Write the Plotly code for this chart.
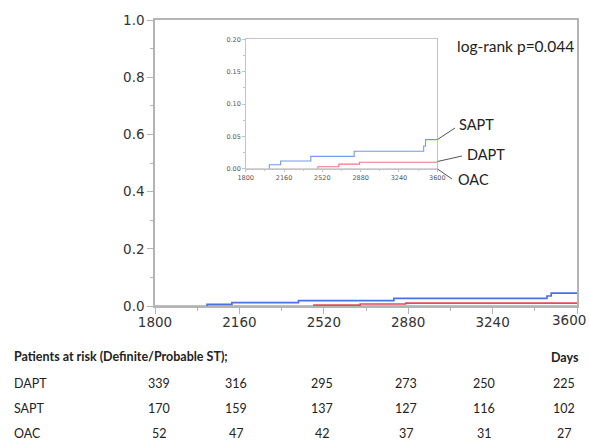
import plotly.graph_objects as go

# ---- data ----
sapt_days = [2022, 2022, 2128, 2412, 2819, 3472, 3490, 3600]
sapt_cum = [0.0, 0.006, 0.012, 0.019, 0.027, 0.035, 0.045, 0.045]
dapt_days = [2478, 2478, 2675, 2869, 3600]
dapt_cum = [0.0, 0.003, 0.007, 0.010, 0.010]
oac_days = [1800, 3600]
oac_cum = [0.0, 0.0]

risk_groups = ["DAPT", "SAPT", "OAC"]
risk_dapt = [339, 316, 295, 273, 250, 225]
risk_sapt = [170, 159, 137, 127, 116, 102]
risk_oac = [52, 47, 42, 37, 31, 27]
x_ticks = [1800, 2160, 2520, 2880, 3240, 3600]
inset_y_ticks = [0.0, 0.05, 0.10, 0.15, 0.20]
main_y_ticks = [0.0, 0.2, 0.4, 0.6, 0.8, 1.0]
pvalue_text = "log-rank p=0.044"

# ---- layout geometry (pixels, in the 589x440 window) ----
W, H = 589, 440
L, R, T, B = 155, 12, 20, 134
PW = W - L - R
PH = H - T - B


def px(x):
    return (x - L) / PW


def py(y):
    return (H - B - y) / PH


BLUE = "#4a72e0"
RED = "#e44a5a"
AXC = "#b4b4b4"
INC = "#c4c4c4"

fig = go.Figure()

# main curves
fig.add_trace(go.Scatter(x=oac_days, y=oac_cum, mode="lines", line=dict(color="#a8a8a8", width=1.5),
                         showlegend=False, hoverinfo="skip", xaxis="x", yaxis="y"))
fig.add_trace(go.Scatter(x=dapt_days, y=dapt_cum, mode="lines", line=dict(color=RED, width=1.6, shape="hv"),
                         showlegend=False, xaxis="x", yaxis="y"))
fig.add_trace(go.Scatter(x=sapt_days, y=sapt_cum, mode="lines", line=dict(color=BLUE, width=1.7, shape="hv"),
                         showlegend=False, xaxis="x", yaxis="y"))

# inset curves
fig.add_trace(go.Scatter(x=oac_days, y=oac_cum, mode="lines", line=dict(color="#bbbbbb", width=1),
                         showlegend=False, hoverinfo="skip", xaxis="x2", yaxis="y2"))
fig.add_trace(go.Scatter(x=dapt_days, y=dapt_cum, mode="lines", line=dict(color="#ee7480", width=1.1, shape="hv"),
                         showlegend=False, xaxis="x2", yaxis="y2"))
fig.add_trace(go.Scatter(x=sapt_days, y=sapt_cum, mode="lines", line=dict(color="#7598ee", width=1.1, shape="hv"),
                         showlegend=False, xaxis="x2", yaxis="y2"))

tickfont_main = dict(family="DejaVu Sans", size=13.5, color="#333333")
tickfont_inset = dict(family="DejaVu Sans", size=6.5, color="#555555")

# last main x tick label is drawn separately (shifted left to stay inside the window)
main_x_text = [str(v) for v in x_ticks[:-1]] + [""]

fig.update_layout(
    width=W, height=H,
    margin=dict(l=L, r=R, t=T, b=B, autoexpand=False),
    paper_bgcolor="white", plot_bgcolor="white",
    xaxis=dict(range=[1800, 3600], tickvals=x_ticks, ticktext=main_x_text, ticks="outside", ticklen=6,
               tickcolor=AXC, tickwidth=1.3, automargin=False, ticklabelstandoff=-3,
               showline=True, linecolor=AXC, linewidth=1.5, mirror=True, showgrid=False, zeroline=False,
               tickfont=tickfont_main,
               minor=dict(dtick=180, tick0=1800, ticks="outside", ticklen=3.5, tickcolor=AXC, showgrid=False)),
    yaxis=dict(range=[0, 1], tickvals=main_y_ticks, tickformat=".1f", ticks="outside", ticklen=6, tickcolor=AXC,
               tickwidth=1.3, automargin=False, showline=True, linecolor=AXC, linewidth=1.5, mirror=True,
               showgrid=False, zeroline=False, tickfont=tickfont_main,
               minor=dict(dtick=0.1, tick0=0, ticks="outside", ticklen=3.5, tickcolor=AXC, showgrid=False)),
    xaxis2=dict(domain=[px(245.7), px(437.3)], anchor="y2", range=[1800, 3600], tickvals=x_ticks,
                ticks="outside", ticklen=2.5, tickcolor=INC, showline=True, linecolor=INC, automargin=False,
                linewidth=1, mirror=True, showgrid=False, zeroline=False, tickfont=tickfont_inset,
                minor=dict(dtick=180, tick0=1800, ticks="outside", ticklen=1.5, tickcolor=INC, showgrid=False)),
    yaxis2=dict(domain=[py(168.7), py(39.3)], anchor="x2", range=[0, 0.2], tickvals=inset_y_ticks,
                tickformat=".2f", ticks="outside", ticklen=2.5, tickcolor=INC, showline=True, automargin=False,
                linecolor=INC, linewidth=1, mirror=True, showgrid=False, zeroline=False,
                tickfont=tickfont_inset,
                minor=dict(dtick=0.025, tick0=0, ticks="outside", ticklen=1.5, tickcolor=INC, showgrid=False)),
)

TXT = dict(family="Lato", size=14.5, color="#222222")
annots = []
annots.append(dict(x=px(569), y=py(320), xref="paper", yref="paper", text=str(x_ticks[-1]), showarrow=False,
                   xanchor="center", yanchor="middle", font=tickfont_main))
annots.append(dict(x=px(455), y=py(46), xref="paper", yref="paper", text=pvalue_text, showarrow=False,
                   xanchor="left", yanchor="middle", font=dict(family="Lato", size=15.5, color="#222222")))
annots.append(dict(x=px(457), y=py(124), xref="paper", yref="paper", text="SAPT", showarrow=False,
                   xanchor="left", yanchor="middle", font=TXT))
annots.append(dict(x=px(465), y=py(155), xref="paper", yref="paper", text="DAPT", showarrow=False,
                   xanchor="left", yanchor="middle", font=TXT))
annots.append(dict(x=px(456), y=py(179), xref="paper", yref="paper", text="OAC", showarrow=False,
                   xanchor="left", yanchor="middle", font=TXT))

# risk table
TBL = dict(family="Lato", size=12.5, color="#222222")
annots.append(dict(x=px(12), y=py(356), xref="paper", yref="paper",
                   text="<b>Patients at risk (Definite/Probable ST);</b>", showarrow=False,
                   xanchor="left", yanchor="middle", font=TBL))
annots.append(dict(x=px(565), y=py(357), xref="paper", yref="paper", text="<b>Days</b>", showarrow=False,
                   xanchor="center", yanchor="middle", font=TBL))
col_px = [159, 236, 322, 406, 484, 564]
row_py = [383, 408, 433]
for name, vals, ry in zip(risk_groups, [risk_dapt, risk_sapt, risk_oac], row_py):
    annots.append(dict(x=px(12), y=py(ry), xref="paper", yref="paper", text=name, showarrow=False,
                       xanchor="left", yanchor="middle", font=TBL))
    for v, cx in zip(vals, col_px):
        annots.append(dict(x=px(cx), y=py(ry), xref="paper", yref="paper", text=str(v), showarrow=False,
                           xanchor="center", yanchor="middle", font=TBL))
fig.update_layout(annotations=annots)

# leader lines
LC = dict(color="#555555", width=1)
shapes = [
    dict(type="line", xref="paper", yref="paper", x0=px(437.5), y0=py(139.5), x1=px(455), y1=py(128), line=LC),
    dict(type="line", xref="paper", yref="paper", x0=px(437.5), y0=py(161.5), x1=px(462), y1=py(156), line=LC),
    dict(type="line", xref="paper", yref="paper", x0=px(437.5), y0=py(169), x1=px(452), y1=py(179), line=LC),
]
fig.update_layout(shapes=shapes)

fig.write_html(
    "out.html",
    config={"displayModeBar": False},
    post_script="document.body.style.margin='0';document.body.style.overflow='hidden';",
)
